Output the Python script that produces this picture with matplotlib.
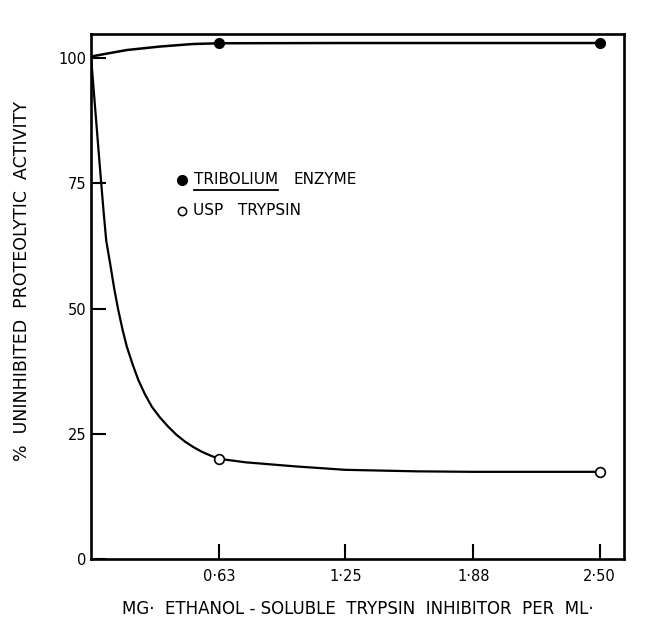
import matplotlib
matplotlib.use("Agg")
import matplotlib.pyplot as plt
from matplotlib.lines import Line2D

# ---- data ----
x_ticks = [0.63, 1.25, 1.88, 2.50]
x_tick_labels = ["0·63", "1·25", "1·88", "2·50"]
y_ticks = [0, 25, 50, 75, 100]
y_tick_labels = ["0", "25", "50", "75", "100"]

# measured points (markers)
trib_x = [0.63, 2.50]
trib_y = [103.0, 103.0]
usp_x = [0.63, 2.50]
usp_y = [20.0, 17.4]

trib_curve_x = [0.0, 0.08, 0.176, 0.34, 0.5, 0.63, 1.25, 1.88, 2.50]
trib_curve_y = [100.3, 100.9, 101.6, 102.3, 102.8, 102.95, 103.0, 103.0, 103.0]
usp_curve_x = [0.0, 0.035, 0.049, 0.062, 0.075, 0.094, 0.114, 0.134, 0.155, 0.176, 0.205,
               0.233, 0.265, 0.299, 0.34, 0.38, 0.42, 0.463, 0.505, 0.545, 0.59, 0.63,
               0.76, 1.0, 1.25, 1.6, 1.88, 2.2, 2.50]
usp_curve_y = [100.3, 82.6, 75.6, 69.3, 63.5, 59.0, 54.0, 49.7, 45.8, 42.4, 38.8,
               35.7, 32.9, 30.4, 28.2, 26.4, 24.8, 23.4, 22.3, 21.4, 20.6, 20.0,
               19.3, 18.5, 17.8, 17.5, 17.4, 17.4, 17.4]

fig = plt.figure(figsize=(6.59, 6.41), dpi=100)
fig.patch.set_facecolor("white")
ax = fig.add_axes([91/659, 1-559/641, (624-91)/659, (559-34)/641])

ax.plot(trib_curve_x, trib_curve_y, color="black", lw=1.8, solid_capstyle="round")
ax.plot(usp_curve_x, usp_curve_y, color="black", lw=1.6, solid_capstyle="round")
ax.plot(trib_x, trib_y, "o", color="black", ms=7, zorder=5)
ax.plot(usp_x, usp_y, "o", mfc="white", mec="black", mew=1.2, ms=7, zorder=5)

ax.set_xlim(0, 2.62)
ax.set_ylim(0, 104.8)

ax.set_xticks(x_ticks)
ax.set_xticklabels(x_tick_labels)
ax.set_yticks(y_ticks)
ax.set_yticklabels(y_tick_labels)
ax.tick_params(direction="in", length=11, width=1.5, labelsize=10.5, colors="black")
ax.tick_params(axis="x", pad=7)
ax.tick_params(axis="y", pad=3)
for s in ax.spines.values():
    s.set_linewidth(1.9)

ax.set_xlabel("MG·  ETHANOL - SOLUBLE  TRYPSIN  INHIBITOR  PER  ML·", fontsize=12, labelpad=12)
ax.set_ylabel("%  UNINHIBITED  PROTEOLYTIC  ACTIVITY", fontsize=12.5)
ax.yaxis.set_label_coords(-0.112, 0.53)

# legend drawn by hand
ax.plot([0.171], [0.722], "o", color="black", ms=7, transform=ax.transAxes, clip_on=False)
ax.plot([0.171], [0.663], "o", mfc="white", mec="black", mew=1.1, ms=6, transform=ax.transAxes, clip_on=False)
t1 = ax.text(0.193, 0.722, "TRIBOLIUM", transform=ax.transAxes, fontsize=11, va="center", ha="left")
ax.text(0.379, 0.722, "ENZYME", transform=ax.transAxes, fontsize=11, va="center", ha="left")
ax.text(0.191, 0.663, "USP   TRYPSIN", transform=ax.transAxes, fontsize=11, va="center", ha="left")

fig.canvas.draw()
bb = t1.get_window_extent(renderer=fig.canvas.get_renderer())
inv = ax.transAxes.inverted()
(x0, y0), (x1, y1) = inv.transform([[bb.x0, bb.y0], [bb.x1, bb.y1]])
ax.add_line(Line2D([x0, x1], [y0 - 0.004, y0 - 0.004], color="black", lw=1.3,
                   transform=ax.transAxes, clip_on=False))

fig.savefig("out.png", dpi=100, facecolor="white")
